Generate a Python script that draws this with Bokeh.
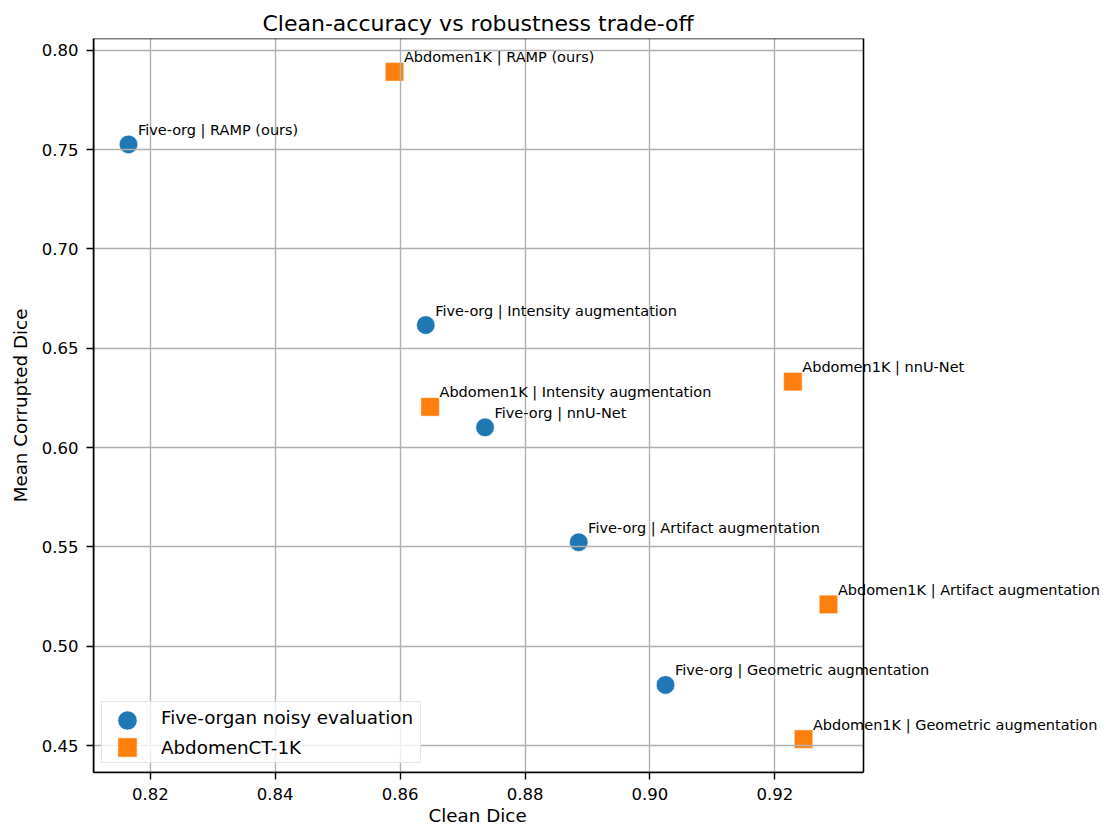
from bokeh.plotting import figure
from bokeh.models import (ColumnDataSource, Range1d, FixedTicker, PrintfTickFormatter,
                          LabelSet, Legend, LegendItem, BoxAnnotation, Title)
from bokeh.core.properties import value
from bokeh.embed import file_html
from bokeh.resources import INLINE

# Five-organ noisy evaluation
five_methods = ["RAMP (ours)", "Intensity augmentation", "nnU-Net",
                "Artifact augmentation", "Geometric augmentation"]
five_clean = [0.8165, 0.8641, 0.8736, 0.8886, 0.9025]
five_corrupt = [0.7526, 0.6617, 0.6102, 0.5524, 0.4806]

# AbdomenCT-1K
abd_methods = ["RAMP (ours)", "Intensity augmentation", "nnU-Net",
               "Artifact augmentation", "Geometric augmentation"]
abd_clean = [0.8591, 0.8648, 0.9229, 0.9286, 0.9246]
abd_corrupt = [0.7891, 0.6205, 0.6332, 0.5211, 0.4533]

x_ticks = [0.82, 0.84, 0.86, 0.88, 0.90, 0.92]
y_ticks = [0.45, 0.50, 0.55, 0.60, 0.65, 0.70, 0.75, 0.80]

FONT = "DejaVu Sans"
BLUE = "#1f77b4"
ORANGE = "#ff7f0e"

W, H = 1107, 829
LEFT, TOP, BOTTOM = 93, 38, 57
AXES_W = 770          # width of the boxed axes area; labels may run past it


def padded(vals, frac=0.05):
    lo, hi = min(vals), max(vals)
    pad = (hi - lo) * frac
    return lo - pad, hi + pad


x0, x1 = padded(five_clean + abd_clean)
y0, y1 = padded(five_corrupt + abd_corrupt)

# the drawing frame reaches the right edge so long point labels are not cut off
x_end = x0 + (x1 - x0) * (W - LEFT) / AXES_W

p = figure(width=W, height=H, output_backend="svg", toolbar_location=None,
           x_range=Range1d(x0, x_end), y_range=Range1d(y0, y1),
           min_border_left=LEFT, min_border_right=0,
           min_border_top=TOP, min_border_bottom=BOTTOM,
           background_fill_color="white", border_fill_color="white")

p.title.text = "Clean-accuracy vs robustness trade-off"
p.title.align = "left"
p.title.offset = 169
p.title.text_font = FONT
p.title.text_font_size = "22px"
p.title.text_font_style = "normal"
p.title.text_color = "black"
p.title.standoff = 6

p.outline_line_color = None

for ax, ticks in ((p.xaxis[0], x_ticks), (p.yaxis[0], y_ticks)):
    ax.ticker = FixedTicker(ticks=ticks)
    ax.formatter = PrintfTickFormatter(format="%.2f")
    ax.axis_label_text_font = FONT
    ax.axis_label_text_font_size = "18.3px"
    ax.axis_label_text_font_style = "normal"
    ax.axis_label_text_color = "black"
    ax.major_label_text_font = FONT
    ax.major_label_text_font_size = "16.5px"
    ax.major_label_text_color = "black"
    ax.major_tick_out = 7
    ax.major_tick_in = 0
    ax.minor_tick_out = 0
    ax.minor_tick_in = 0
    ax.major_tick_line_color = "black"
    ax.major_tick_line_width = 1.4
    ax.axis_line_color = "black"
    ax.axis_line_width = 1.6
    ax.major_label_standoff = 8

p.xaxis[0].bounds = (x0, x1)
p.yaxis[0].axis_label = "Mean Corrupted Dice"
p.yaxis[0].axis_label_standoff = 8

# x-axis title, centred under the boxed axes area
p.add_layout(Title(text="Clean Dice", align="left", offset=335,
                   text_font=FONT, text_font_size="18.3px",
                   text_font_style="normal", text_color="black",
                   standoff=0), "below")

for g in (p.xgrid[0], p.ygrid[0]):
    g.grid_line_color = "#b0b0b0"
    g.grid_line_width = 1.4
    g.level = "glyph"
p.ygrid[0].cross_bounds = (x0, x1)

# axes box (top and right spines)
p.add_layout(BoxAnnotation(left=x0, right=x1, bottom=y0, top=y1,
                           fill_alpha=0, line_color="black", line_alpha=1.0,
                           line_width=1.6))

five_src = ColumnDataSource(dict(x=five_clean, y=five_corrupt,
                                 label=["Five-org | " + m for m in five_methods]))
abd_src = ColumnDataSource(dict(x=abd_clean, y=abd_corrupt,
                                label=["Abdomen1K | " + m for m in abd_methods]))

r_five = p.scatter("x", "y", source=five_src, marker="circle", size=18.5,
                   fill_color=BLUE, line_color="white", line_width=0.5,
                   level="underlay")
r_abd = p.scatter("x", "y", source=abd_src, marker="square", size=18.5,
                  fill_color=ORANGE, line_color="white", line_width=0.5,
                  level="underlay")

for src in (five_src, abd_src):
    p.add_layout(LabelSet(x="x", y="y", text="label", source=src,
                          x_offset=9.4, y_offset=9.4,
                          text_font=value(FONT), text_font_size="14.5px",
                          text_color="black", text_baseline="alphabetic",
                          text_align="left"))

legend = Legend(items=[("Five-organ noisy evaluation", [r_five]),
                       ("AbdomenCT-1K", [r_abd])],
                location=(8, 9), margin=0,
                glyph_width=50, glyph_height=30, padding=0, spacing=0,
                label_standoff=9, label_width=259,
                label_text_font=FONT, label_text_font_size="18.3px",
                label_text_color="black",
                border_line_color="#cccccc", border_line_width=1.4,
                background_fill_color="white", background_fill_alpha=0.8)
p.add_layout(legend, "center")

# larger legend markers, laid over the keys of the legend above
for renderer, loc in ((r_five, (9, 28)), (r_abd, (9, 1))):
    p.add_layout(Legend(items=[LegendItem(label=value(""), renderers=[renderer])],
                        location=loc, margin=0, padding=0, spacing=0,
                        glyph_width=50, glyph_height=48,
                        label_standoff=0, label_width=0, label_height=0,
                        border_line_color=None, background_fill_alpha=0),
                 "center")

open("out.html", "w").write(file_html(p, INLINE))
